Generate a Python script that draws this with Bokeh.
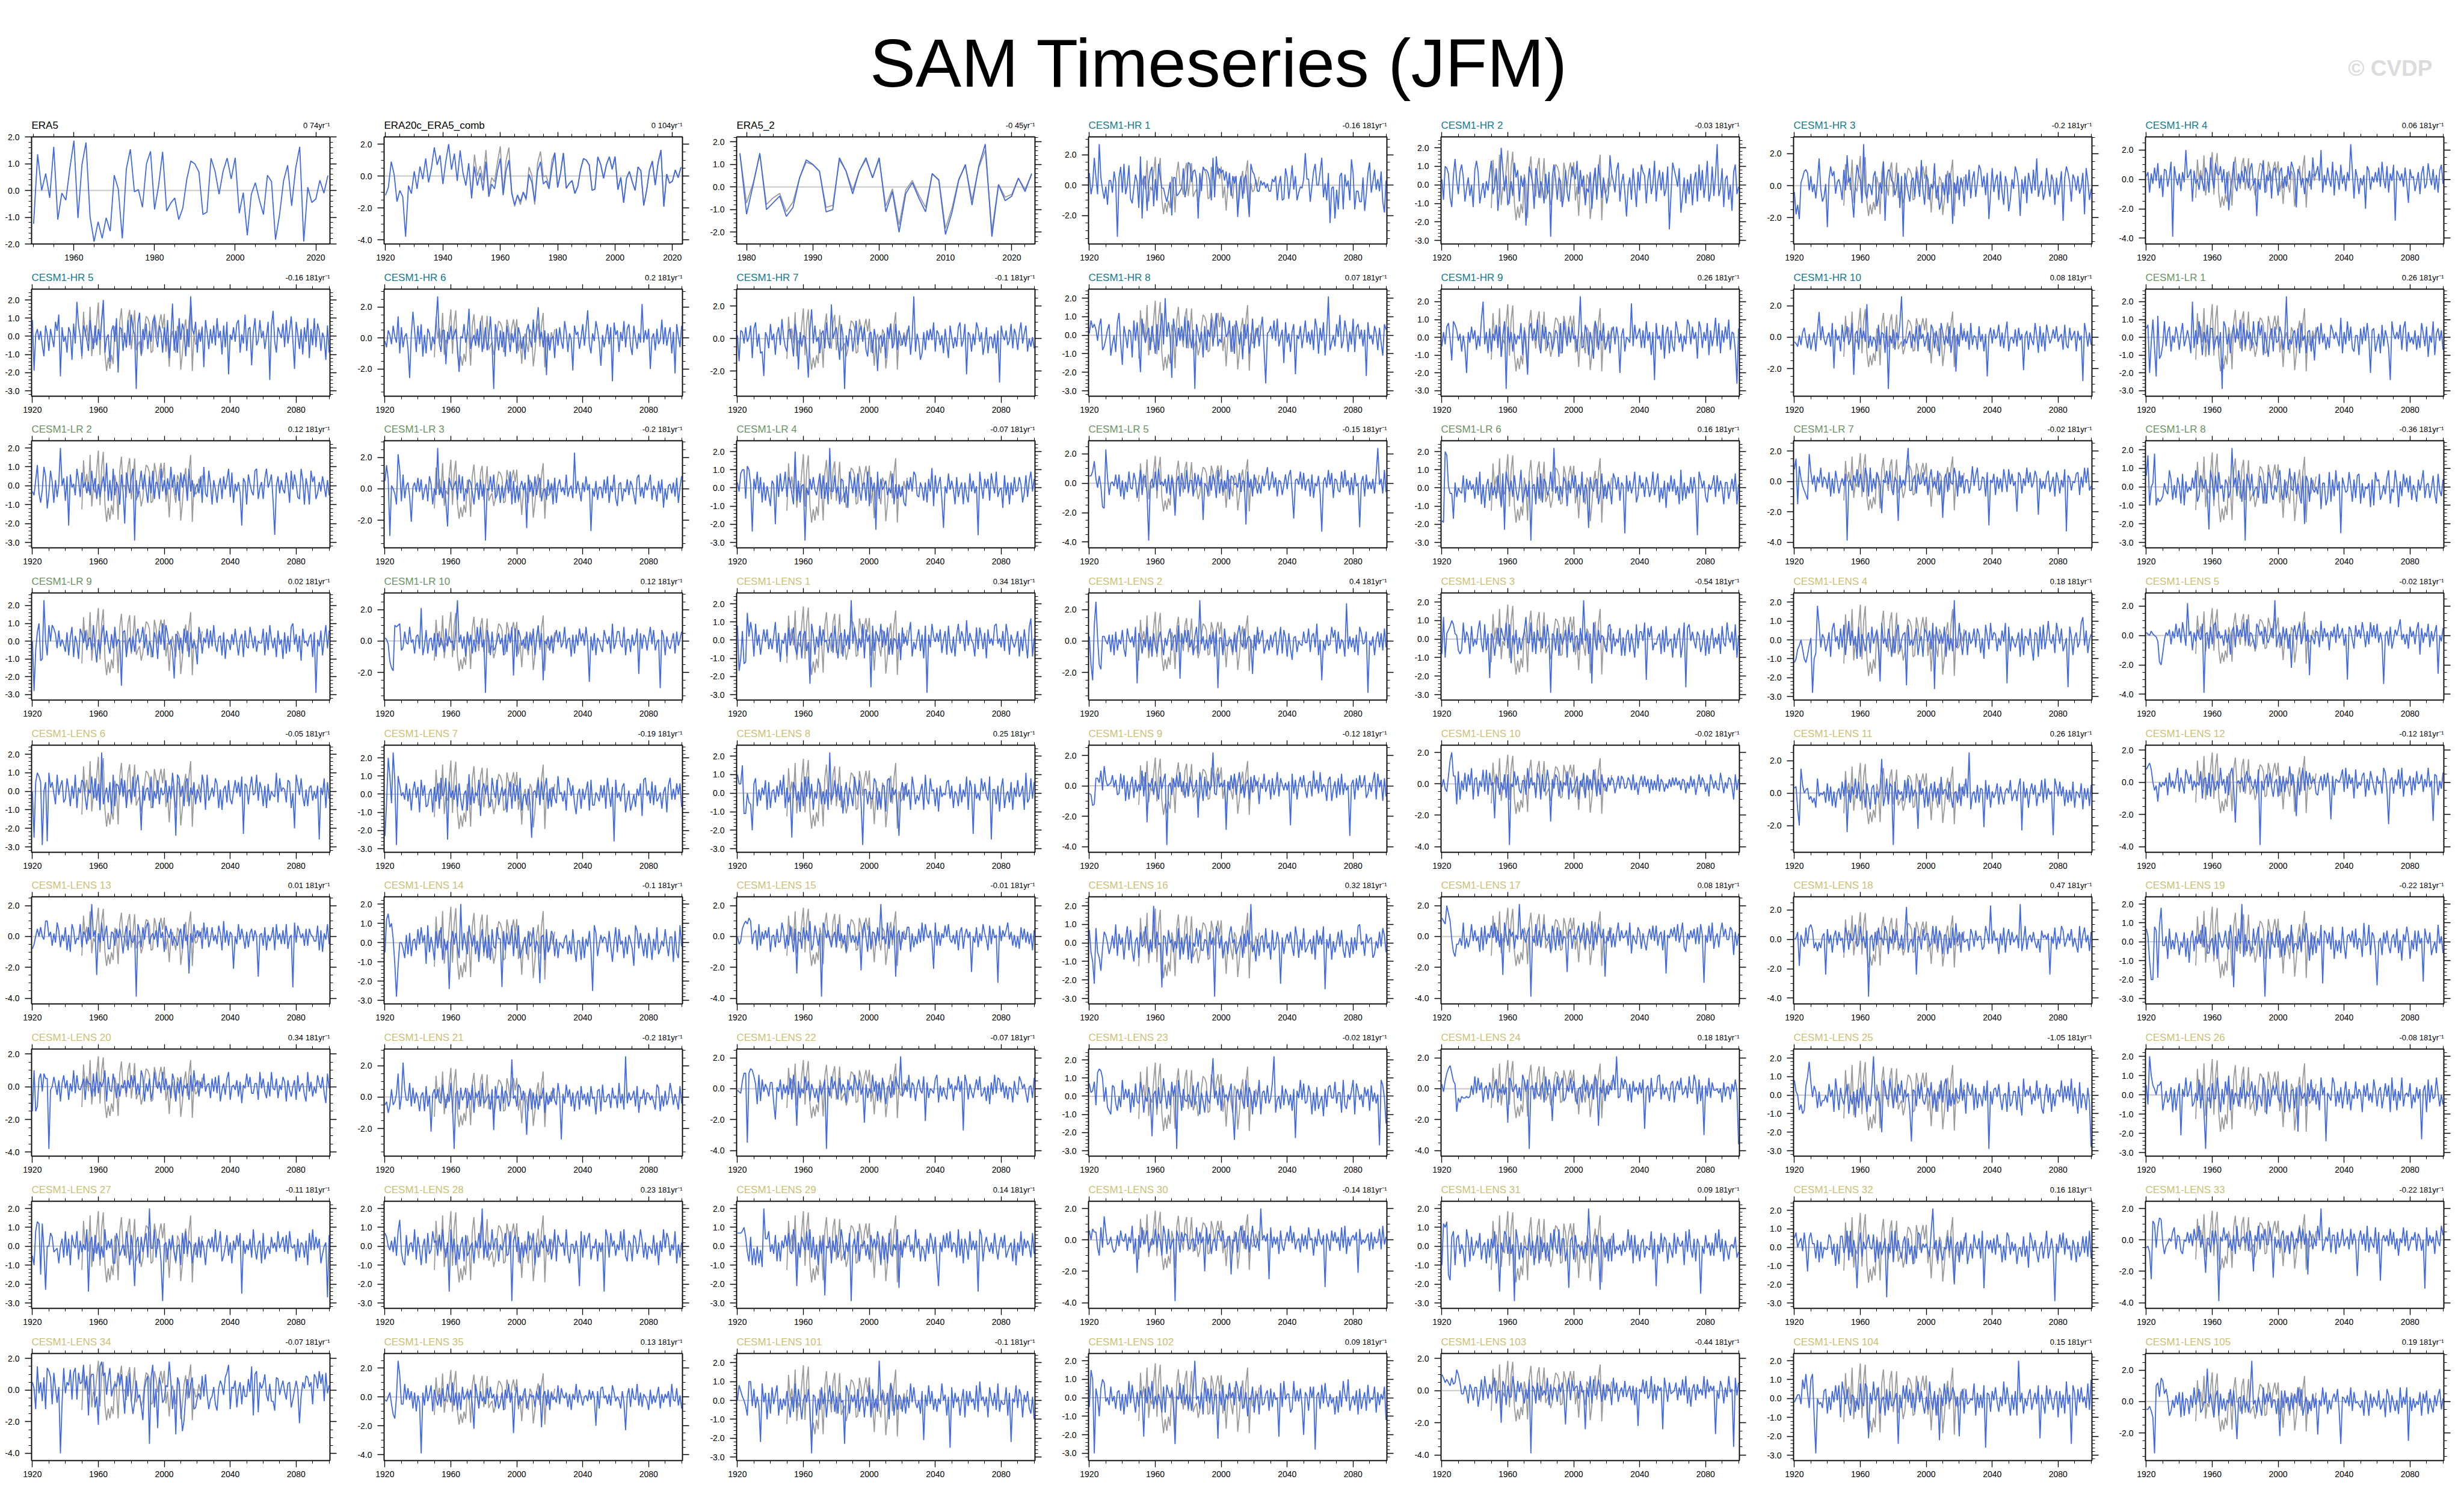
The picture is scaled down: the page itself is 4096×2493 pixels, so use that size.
import numpy as np
from bokeh.plotting import figure
from bokeh.layouts import column, row
from bokeh.models import Range1d, LinearAxis, FixedTicker, PrintfTickFormatter, Span, Label
from bokeh.embed import file_html
from bokeh.resources import INLINE

# ---------------- observations ----------------
ERA5_YEARS = list(range(1950, 2024))
ERA5 = [-1.25, 1.35, 0.0, 0.63, -0.28, 1.63, -1.09, -0.10, -0.36, 0.83,
        1.86, -1.03, 0.96, 1.79, -0.98, -1.91, -1.17, -1.79, -1.02, -1.52,
        0.57, 0.05, -1.79, 0.80, 1.54, -0.05, 0.03, -0.63, 1.00, 1.46,
        -0.71, 0.18, 1.44, -0.77, -0.48, -0.28, -1.09, -0.66, 0.42, 1.10,
        0.99, 0.69, -0.90, -0.81, 1.20, 0.72, -0.14, 0.72, 1.21, 0.43,
        1.22, -0.85, -0.08, -1.67, -0.14, 0.29, -0.36, -0.90, 0.57, 0.33,
        -1.84, -0.91, 0.36, 0.94, -0.57, 0.83, 1.63, -1.91, 0.12, -0.45,
        -0.32, 0.38, -0.10, 0.56]

ERA20C_YEARS = list(range(1920, 2024))
ERA20C = [-1.2, -0.7, 0.9, 0.1, -1.6, -0.9, -1.3, -3.8, -0.6, -1.1,
          0.3, -0.8, 0.6, -0.2, 1.1, -0.4, 0.5, 1.8, 0.7, 1.3,
          -0.5, 0.9, 2.0, 0.4, 1.4, -0.3, 1.6, 0.2, -0.6, 0.8,
          -1.4, 0.6, -0.6, 0.2, -0.9, 0.9, -1.3, -0.5, -0.8, 0.3,
          1.1, -1.2, 0.3, 1.0, -1.1, -1.8, -1.2, -1.6, -1.0, -1.4,
          0.1, -0.4, -1.6, 0.3, 0.9, -0.5, -0.3, -0.8, 0.5,
          1.46, -0.71, 0.18, 1.44, -0.77, -0.48, -0.28, -1.09, -0.66, 0.42,
          1.10, 0.99, 0.69, -0.90, -0.81, 1.20, 0.72, -0.14, 0.72, 1.21,
          0.43, 1.22, -0.85, -0.08, -1.67, -0.14, 0.29, -0.36, -0.90, 0.57,
          0.33, -1.84, -0.91, 0.36, 0.94, -0.57, 0.83, 1.63, -1.91, 0.12,
          -0.45, -0.32, 0.38, -0.10, 0.56]

ERA5_2_YEARS = list(range(1979, 2024))
ERA5_2 = [1.5, -1.2, 0.1, 1.5, -1.0, -0.7, -0.4, -1.3, -0.9, 0.4,
          1.2, 1.0, 0.7, -1.1, -1.0, 1.3, 0.7, -0.3, 0.7, 1.3,
          0.4, 1.3, -1.1, -0.2, -2.0, -0.3, 0.2, -0.5, -1.1, 0.6,
          0.3, -2.1, -1.1, 0.3, 1.0, -0.8, 0.9, 1.9, -2.2, 0.1,
          -0.6, -0.4, 0.4, -0.2, 0.6]

# ---------------- model runs 1920-2100 (values in tenths) ----------------
MODEL_YEARS = list(range(1920, 2101))

HR1 = [8,-6,0,18,5,-6,27,5,-3,-9, -1,-13,3,3,-5,9,2,-34,5,12,
       -5,14,-6,0,13,-9,-12,-2,7,2, -15,19,-22,4,6,-17,1,9,12,-14,
       4,-10,14,5,-2,-2,-7,-11,-5,2, -20,5,5,-7,-6,-4,-2,11,-8,-2,
       15,14,2,9,10,4,-22,8,-4,12, 10,10,8,3,-10,18,-8,19,7,11,
       8,10,3,9,-2,8,-7,6,1,6, -21,0,6,-9,4,7,-7,-21,14,9,
       7,2,-4,-4,3,0,2,-2,1,-4, -4,4,2,6,-10,0,6,-10,-9,11,
       5,-9,1,13,-3,6,-10,-5,-1,-2, 4,21,4,4,-11,-1,9,14,0,0,
       9,18,-8,1,-10,8,-25,-2,-1,-22, -3,-16,6,8,-16,7,-1,3,-10,17,
       8,-16,-4,-4,-11,-11,5,-17,-6,8, 15,-5,2,10,-3,4,-4,9,-11,-18,
       3]
HR2 = [3,-8,10,9,6,-7,-12,5,14,2, -5,7,11,4,-9,-2,4,-6,0,-12,
       8,13,7,-10,-4,1,-7,2,-3,6, 13,-5,-1,9,-14,-3,20,8,-3,5,
       -11,-7,2,-6,12,4,8,-9,5,-1, 4,-22,-6,10,6,1,-13,9,3,-7,
       2,-2,-10,6,-5,7,-28,4,11,3, -8,4,2,-12,-6,8,-4,-9,1,10,
       6,3,13,-5,8,-1,5,-11,-2,-4, 7,-13,0,9,-8,11,3,-7,4,-2,
       -10,-5,16,6,2,-4,8,12,-9,1, 6,-4,-17,-1,4,-8,9,-1,-12,7,
       -3,11,7,5,-10,3,9,-5,0,13, -9,2,8,-3,7,-6,-2,10,-24,-5,
       12,8,4,-1,9,-15,-6,4,-10,3, -5,6,-11,2,7,-9,11,-3,8,-7,
       1,13,-9,-4,10,-6,5,22,-6,-2, 9,-12,3,5,-8,0,-14,7,11,-5,
       -1]
HR3 = [-4,-18,-12,-21,2,5,9,10,8,-3, 6,-4,1,-8,3,17,-2,-10,-7,1,
       -26,4,12,6,9,-5,2,4,-1,-9, 10,-3,19,2,5,-8,-20,1,13,7,
       3,-11,26,-4,-8,1,0,-6,6,9, -13,-7,2,-5,15,-22,4,10,9,3,
       2,-6,-1,8,-14,6,-32,8,2,-4, -10,3,5,-7,9,1,-7,16,-3,-12,
       7,4,-9,1,-2,14,-8,0,-15,-10, 2,-6,7,-11,8,3,-24,2,-5,6,
       -9,5,1,-13,7,-3,10,-8,4,9, -7,2,13,10,-1,6,-6,8,-21,-5,
       11,-4,3,7,-9,9,-4,-12,6,1, -16,-9,4,-2,12,8,0,-19,4,-5,
       6,-11,8,2,-5,10,-3,17,-7,-1, 3,-9,-4,11,1,-7,7,3,-12,5,
       -6,0,9,-22,5,12,8,2,-10,7, 4,-3,6,-5,-1,8,-18,11,3,-9,
       -2]
HR4 = [2,5,-9,4,-3,8,-1,11,-6,3, -12,7,6,-5,2,12,-39,9,1,-4,
       4,-8,5,-2,20,1,3,7,-15,6, -3,0,-7,3,-1,-8,8,4,-9,15,
       1,-6,11,4,3,9,-2,7,-10,5, -21,-8,0,12,-5,-8,4,-3,6,-2,
       9,2,-6,7,11,-4,1,-25,0,-7, 4,13,-9,3,-1,6,-13,6,8,-2,
       -11,5,8,-6,2,-5,9,0,12,8, 3,-19,7,4,-4,1,-10,1,-2,6,
       -7,15,2,4,9,-1,20,-9,3,-4, 8,0,-5,12,-11,6,2,-7,10,-3,
       3,-8,5,-1,24,6,-13,7,1,-10, 1,-4,3,-20,9,6,-7,2,-2,5,
       -2,8,-5,12,0,-6,9,-9,4,-1, 10,-28,6,3,-1,4,-5,8,-3,-16,
       7,1,2,-8,-2,5,-10,4,9,-6, -3,11,2,-4,7,-7,3,-9,6,10,
       -3]
HR5 = [9,-19,1,4,-2,3,-5,-11,6,1, -8,4,-1,-6,8,3,12,-22,5,-3,
       0,-9,5,2,-13,7,-4,19,6,0, -11,6,3,-2,-8,9,1,-7,6,-5,
       4,-2,8,20,-9,-1,1,-14,3,6, -3,10,-20,5,4,-8,2,-6,9,-5,
       12,4,1,-29,7,13,-10,4,-2,7, -7,3,-3,8,11,-1,-6,6,2,-9,
       5,-5,9,-12,0,18,-8,3,-9,10, -2,7,3,-11,4,-6,22,4,1,8,
       -9,2,-3,5,-17,9,2,-7,4,-4, 6,-5,10,-1,3,-10,6,-6,8,-21,
       1,-2,5,-3,7,9,-9,1,-4,12, -8,4,5,-16,2,10,-5,-2,9,-1,
       3,-7,0,8,-24,6,14,-3,-9,5, 2,-1,7,-6,9,-4,3,11,-2,-18,
       8,1,-7,4,-10,5,-3,10,-12,4, -5,10,-6,7,3,-8,2,-1,-13,6,
       -9]
HR6 = [-2,-6,5,2,-4,8,1,-3,14,-10, 7,-6,1,3,-7,-26,2,17,5,-9,
       8,-4,9,-12,2,-10,6,3,-8,1, -4,10,27,-3,-9,5,5,-17,4,-1,
       8,-1,2,6,-6,-22,1,0,9,-3, 3,19,-7,-2,2,-5,6,-5,11,-9,
       -1,7,-8,0,14,-4,-33,9,2,-8, 5,-6,4,-12,8,1,-9,3,-3,6,
       -10,7,2,-7,1,-14,5,9,-1,-6, 12,-3,8,20,-1,4,-6,5,-24,3,
       -8,0,1,-13,6,-5,7,-2,-7,11, 4,-9,3,-1,-21,8,2,4,-7,0,
       9,-5,6,18,-4,-10,3,-2,11,5, -3,-18,2,-6,1,9,-4,7,-28,10,
       2,5,-9,4,-2,11,-6,6,9,-5, -11,8,0,-7,3,-3,22,-3,5,-1,
       6,-20,0,3,-8,6,-4,-1,12,-4, 7,-5,2,7,-10,4,-23,9,1,-6,
       8]
HR7 = [2,-14,5,4,-3,7,-2,1,8,-12, 6,10,-5,3,-9,-8,-23,4,1,-6,
       9,-1,3,-10,3,7,-4,12,1,-5, -8,5,6,-2,-11,9,3,-19,4,-5,
       2,1,-7,-24,6,18,-3,8,-2,1, -9,3,5,-6,10,-1,-6,21,0,4,
       7,-3,-13,9,2,-31,2,-5,6,5, -8,1,11,-4,4,8,-2,7,-7,-11,
       3,4,-9,6,-1,-20,0,2,-5,3, -12,7,0,9,-6,-3,9,-7,5,1,
       -4,2,-5,2,8,-10,1,26,-8,3, -2,-13,-9,4,-7,5,-1,6,-1,10,
       -8,5,3,-4,2,-9,6,-3,-12,8, 1,-6,1,-5,7,10,-5,-1,9,-22,
       4,2,-8,3,-4,10,6,-2,4,-10, -3,7,-9,1,1,-6,3,-9,5,-27,
       8,2,-1,5,-4,-1,9,-6,6,2, -7,4,10,-3,3,8,-8,0,-5,1,
       -6]
HR8 = [1,8,4,6,3,-3,5,9,-8,-6, -2,3,6,-11,-5,0,-9,7,12,-4,
       -16,5,0,-7,3,2,-12,8,-3,7, -6,-20,9,1,-4,1,4,-8,5,-2,
       -10,6,-8,3,12,-5,20,-1,7,-1, -23,9,2,-6,4,-3,5,-3,10,-7,
       8,0,-7,3,-29,6,1,-4,2,-12, 5,-8,3,-1,9,-6,4,12,-6,-2,
       -4,10,7,-1,1,8,-9,5,-10,8, 3,-5,2,-13,6,-2,6,-10,-4,9,
       -7,1,4,-6,4,10,-8,-26,1,2, 5,-2,8,-3,9,-6,-1,3,-15,7,
       -4,1,-9,2,6,-21,0,-2,5,-7, 0,8,-4,2,-5,3,-8,9,4,-10,
       4,-3,7,-11,1,21,-8,-4,0,-6, 6,-1,11,-7,-3,8,2,-9,2,-5,
       9,-9,4,6,-2,3,-6,3,-22,7, -2,0,-5,5,1,-8,4,-4,-11,6,
       3]
HR9 = [-5,3,-4,6,8,-1,-13,9,7,4, -2,2,-8,1,-6,-20,3,-3,6,-1,
       4,-7,1,-5,10,20,-4,3,-9,5, -8,2,-2,7,-6,6,-11,1,9,-29,
       6,-3,3,-8,2,-4,1,-1,8,-10, 4,-6,-21,5,8,-2,5,-2,10,-4,
       -9,7,-1,6,-6,3,2,-7,-3,4, 2,-11,8,-9,9,1,-5,6,-3,6,
       -1,1,-8,4,23,-6,-5,7,2,-10, 3,-3,-12,9,5,-7,4,-2,8,-7,
       -4,2,-9,3,6,-4,6,0,-20,1, 5,-8,0,-1,-3,19,-5,7,-1,2,
       5,-6,4,-6,9,-2,3,-10,3,-24, 8,-1,1,-7,7,-12,2,6,-9,4,
       -5,-8,9,4,-3,2,-8,1,-4,10, 7,-4,6,-1,3,-12,9,5,-6,3,
       -2,8,-10,4,-5,1,11,-5,8,-9, 4,-3,6,-1,10,-7,3,2,-7,-26,
       5]
HR10 = [-3,-4,-6,1,-5,3,6,-1,-7,2, -8,-2,3,-9,4,16,-2,7,-1,-5,
        0,3,-6,9,-20,5,-2,1,-9,8, -3,2,7,-5,-1,9,-24,2,4,-8,
        6,-1,4,-3,21,-7,1,-6,0,-2, -9,8,-5,3,2,-10,7,-33,1,-4,
        5,-8,3,-2,9,26,-6,-1,-4,0, 4,-7,2,-3,7,-9,8,-1,2,-6,
        -1,3,-10,8,5,-7,4,-2,-12,9, 3,-5,1,-4,7,-10,0,6,-22,2,
        -6,9,-2,4,-3,4,-8,9,-5,1, 0,-8,7,-3,2,-9,2,-25,1,6,
        -4,5,-1,1,8,-6,3,-7,3,10, -9,-1,0,-4,5,-6,6,-2,2,-21,
        1,4,-8,3,-2,-5,9,1,-10,7, -6,3,-9,8,2,-4,-1,5,-1,7,
        -3,0,2,-8,8,-5,-7,6,-2,1, 4,-9,4,-2,1,-28,9,3,-6,3,
        -5]
LR1 = [5,7,-20,-3,10,-6,-22,12,-12,-10, -4,9,-5,3,6,-8,1,-3,6,1,
       -7,2,8,-5,-1,4,-1,-9,20,-6, 4,-4,9,1,-10,3,-3,7,-10,5,
       5,-7,-2,1,-6,3,-29,9,6,-4, 2,-9,2,7,-3,5,-1,10,-8,8,
       -5,4,-1,3,-6,9,-2,-5,9,1, 7,-10,3,-4,-11,1,5,-8,6,-3,
       -2,6,2,-7,0,23,-7,-1,-4,2, 4,-6,5,-9,8,-2,1,-9,3,4,
       -8,1,-13,2,6,-4,8,-3,2,-7, 0,-6,7,4,-1,3,-1,-5,11,-9,
       3,-4,9,-2,6,-6,-8,1,1,-10, 5,-4,6,-2,8,-1,-20,4,5,-8,
       -3,2,-9,7,-5,4,0,-6,-24,9, 2,-1,3,-1,7,-7,5,9,-8,3,
       -3,0,-4,4,-7,1,-6,8,2,-5, 6,-11,1,-3,9,-10,2,5,-2,4,
       -7]
LR2 = [-3,-5,3,11,-4,-9,-2,10,5,-12, -4,8,2,-9,3,-6,1,20,0,4,
       -8,5,-21,6,-1,1,-5,9,3,-6, 7,-1,2,-4,2,-5,8,-2,4,-7,
       1,-6,0,5,-3,12,-8,3,-8,9, -5,2,-1,-10,6,-3,-20,7,1,-4,
       4,9,-29,3,-6,1,8,-2,6,-2, -9,5,-4,8,-7,2,1,-7,9,-3,
       3,-5,4,-2,10,-1,6,-5,2,-8, 7,-1,6,2,-8,9,-3,3,-6,-1,
       1,-4,5,-9,10,-4,-6,8,1,-10, 3,-2,-9,0,4,-7,5,-2,3,9,
       -6,7,-9,1,-3,2,-4,-21,4,2, -10,6,1,-3,-5,8,9,-7,-1,2,
       -7,4,9,-1,2,6,-8,-26,0,5, -4,3,-2,-4,7,1,-9,8,-2,6,
       1,-6,-7,9,3,-10,4,-1,-10,8, 2,5,-7,-4,2,-3,5,0,-6,3,
       -5]
LR3 = [5,15,6,-30,2,0,-3,-10,22,12, -8,9,-6,2,4,-5,-21,1,4,-2,
       7,-2,6,-7,-1,3,-8,8,3,-10, 0,-4,26,-4,1,-6,5,-9,-24,7,
       2,-1,2,5,-7,9,-3,8,-8,0, -3,6,4,-2,-10,1,4,-7,6,-5,
       3,-33,0,-1,8,-2,9,-6,-4,3, -9,2,-6,1,6,-3,11,-10,5,-9,
       2,-7,1,5,-1,4,-25,9,-2,4, -5,8,-4,3,7,-8,-1,0,-7,6,
       -3,3,-10,7,-9,2,6,-2,1,-4, 9,-5,0,2,-6,23,-3,5,-1,-8,
       4,-2,8,-1,3,-27,0,-5,5,-7, 1,1,-6,6,-3,8,-9,2,-2,9,
       -6,-11,3,4,-8,0,-2,6,-4,5, 2,-4,-10,7,9,-5,1,-6,4,-1,
       3,9,-7,2,-1,-8,5,-3,6,-12, 0,-7,2,3,-3,4,-5,7,-9,1,
       8]
LR4 = [3,-2,8,10,10,-6,12,10,2,-24, 5,-1,9,-3,6,-8,3,-7,1,-4,
       -10,4,2,-20,7,-5,8,-2,1,9, -5,6,3,-3,-9,20,-7,4,-8,1,
       2,-29,0,-4,5,-1,6,-1,-4,2, 8,-6,7,-6,3,-9,22,-2,-2,7,
       -3,1,-9,5,4,-8,1,-11,9,4, -3,6,-5,8,-1,-7,2,3,-7,9,
       -10,6,-2,3,-23,9,-6,5,-1,1, 4,-4,0,-3,8,-9,2,-6,2,-5,
       1,-8,-10,4,-1,6,-2,9,7,-4, -5,3,0,-7,3,-8,5,-2,11,-10,
       7,-3,2,6,-6,-22,1,-3,8,-1, 4,-1,-9,6,-5,0,3,-9,3,-4,
       -8,8,-2,4,-3,1,-26,9,1,-6, 5,0,5,-7,8,2,-3,9,-5,-1,
       0,-11,7,-4,3,-9,3,-4,6,-2, -1,6,2,-8,-3,7,-5,4,9,-2,
       5]
LR5 = [5,5,8,15,3,-3,5,-2,-16,-17, 23,4,-8,0,1,-2,6,-4,6,-9,
       2,-11,1,-6,8,-3,-4,7,2,-10, -1,9,-8,4,5,-7,-39,0,3,-3,
       8,-5,10,-1,1,-2,3,-7,6,-8, 4,-4,-22,1,5,-9,7,-1,-4,9,
       -6,2,2,-9,7,-3,6,-2,4,-25, 0,-2,-8,5,-5,6,1,-10,9,-7,
       3,-6,2,-4,9,-11,5,4,-1,0, -3,7,-6,2,1,-28,8,-3,3,-9,
       6,-1,-7,0,-7,5,-2,4,11,-5, 0,8,-3,4,-9,2,1,-8,-1,6,
       -4,5,9,-6,-24,2,3,-1,8,-4, 7,-5,1,3,-9,6,-10,0,-2,5,
       -7,-33,1,4,-3,9,-1,7,-10,3, 2,-5,-6,8,-3,9,-2,2,-8,4,
       -8,7,-2,0,-30,1,5,-9,6,-4, 1,-4,3,-7,6,24,-1,3,-7,9,
       -6]
LR6 = [-18,-19,20,18,1,-3,-3,-17,3,-5, 0,-2,-3,7,-8,5,-1,4,-1,2,
       -6,6,-4,9,-9,2,-11,1,5,-7, 3,-4,1,-6,7,-2,-10,8,-23,9,
       3,-2,4,-5,7,-1,-7,0,10,-8, -3,2,-5,4,-29,1,2,-9,6,-6,
       8,-8,5,3,-4,-1,9,-2,22,-3, 1,-7,1,-5,6,3,-10,4,-3,7,
       0,7,-5,2,-4,9,-8,2,-1,-22, 6,0,-2,4,5,-9,-3,8,-6,2,
       -6,3,-1,-9,8,5,-1,6,-7,3, 1,-25,7,-2,4,-3,1,9,-8,-4,
       7,0,3,-5,6,2,-5,-1,9,-4, 2,8,-8,0,-6,4,-11,3,-2,7,
       -2,5,-4,1,-9,10,-7,3,-6,1, -3,6,-3,6,-1,-26,9,5,0,4,
       -5,-8,2,-1,2,7,-5,7,-2,4, 0,-9,3,3,-6,-1,5,-2,8,-9,
       2]
LR7 = [8,15,-15,10,2,-3,-6,-9,-12,18, 6,-2,4,-7,3,-1,9,-4,3,1,
       -5,6,-10,2,-8,7,0,-8,-2,2, -3,5,-39,0,1,-6,4,-1,8,-4,
       5,-2,-7,9,4,-10,9,-7,2,-5, 6,3,-3,-21,1,-1,7,-2,7,-5,
       -9,3,0,-26,4,-4,1,-3,9,22, -6,-6,1,4,-8,5,-2,-1,6,-3,
       3,-9,2,8,-4,0,-5,7,-9,1, -24,2,5,-7,6,-1,-2,9,3,-10,
       7,-4,4,-8,1,1,-8,-2,10,-3, 4,9,-6,-5,3,2,-10,6,-29,1,
       -1,5,-9,3,-5,2,-7,8,1,-7, 8,-2,5,-3,0,-20,6,4,-8,2,
       -3,9,-1,6,-4,-1,7,3,-22,2, -5,0,-5,4,7,-7,-2,3,-10,6,
       1,-8,1,-4,8,-33,4,2,-6,0, -1,5,6,-9,3,-4,9,-1,9,-6,
       -3]
LR8 = [6,17,-10,0,2,18,-10,-6,-8,-7, -5,2,-2,-4,9,4,-7,1,-6,5,
       1,-9,7,-10,3,-3,0,-2,5,-1, 9,-8,-5,6,2,-1,4,-4,-23,9,
       3,-7,6,-3,8,-1,1,-8,4,2, -6,-2,21,0,5,-5,9,1,-8,4,
       -29,7,3,-2,7,-5,-1,0,-6,6, 2,-9,2,-9,8,5,-4,-7,1,-3,
       5,9,-3,-7,4,-6,1,10,-1,-2, 8,-4,2,-5,-9,6,-20,6,3,-8,
       5,-1,-3,0,-4,7,-12,2,2,-10, -6,8,-8,4,-5,9,-2,3,-25,5,
       1,-3,-2,8,1,-8,4,-6,6,7, -9,2,-6,0,-1,2,-11,4,-10,8,
       3,4,-7,-4,1,-4,5,9,-9,-1, -3,9,2,-11,3,-5,7,0,5,-3,
       6,-7,1,-2,-8,4,-2,3,9,-6, 1,2,-6,-1,6,-4,-9,7,-2,-5,
       4]
LR9 = [0,-28,-5,5,10,-11,-10,23,0,-8, 9,0,9,7,4,-4,6,-3,1,-2,
       -6,5,-8,2,8,-9,3,-1,-10,7, 4,-1,6,-5,1,2,-5,9,-3,-12,
       1,-7,3,9,-2,6,-2,-7,4,-4, 8,-3,1,0,-25,5,6,-9,-1,2,
       -6,3,-6,3,7,-1,2,8,-4,4, -8,0,-3,-9,5,1,-10,6,-2,10,
       -5,9,4,-2,1,-6,-21,4,3,-5, 2,-7,7,-1,6,-9,5,-4,0,-3,
       -13,8,3,-7,2,-1,7,-4,6,-3, 9,-2,-6,2,3,-8,5,-10,1,0,
       -5,4,-2,7,-1,-8,1,4,-9,6, -3,-4,8,2,-4,3,-6,0,-1,-1,
       7,-8,5,-5,9,1,-4,2,-9,6, -2,1,-10,5,-7,3,-6,8,10,-2,
       4,-6,3,-11,7,-1,0,-3,2,4, -9,5,-29,1,-3,6,-8,1,9,-4,
       6]
LR10 = [2,1,-2,-13,-17,-19,10,9,10,11, -6,-4,6,-1,-2,9,-1,1,-8,3,
        4,-5,21,-9,-3,7,-8,1,2,-6, 5,-10,5,-4,2,-2,-7,8,-3,3,
        -1,0,-6,8,26,-1,4,-5,3,-10, 6,-3,4,-8,1,-7,9,-2,9,-4,
        1,-33,7,2,-9,6,-6,-4,0,5, -2,2,-9,4,-7,5,-1,9,-22,8,
        -10,7,3,-3,1,-5,6,-6,4,-3, 8,-9,1,10,-4,5,-25,0,-2,3,
        -6,3,-8,2,7,-1,6,-4,-1,9, -5,1,2,-10,4,-8,4,-3,8,0,
        5,-3,9,-1,-26,3,-6,5,-9,2, 0,-4,-7,7,2,-2,3,-8,11,-5,
        -1,6,6,-2,-4,9,-9,1,1,-7, 4,-3,0,8,-21,5,-5,4,2,-6,
        2,9,-2,7,-6,-1,1,-30,7,3, -9,3,-3,-5,0,5,-8,6,-3,1,
        6]
LENS1 = [8,-17,-10,5,-13,-12,15,2,10,4, -9,9,-3,3,-8,-1,6,-1,6,-5,
         1,-5,2,10,-7,4,-12,0,-2,4, -9,7,-3,1,7,-4,-8,2,5,-10,
         3,5,-6,-1,-24,9,3,-8,2,-4, 8,-3,6,-1,0,-7,1,4,-7,8,
         -2,-10,2,4,-9,6,-3,3,-5,22, -2,7,1,-6,1,-4,9,-10,6,-1,
         3,-26,8,-6,5,2,-1,9,-4,5, -3,7,-8,1,-8,1,0,-5,4,-11,
         7,-2,2,-3,4,10,-9,-1,-5,1, 6,-6,3,-10,8,-29,3,-4,9,2,
         -1,4,-1,6,-7,0,5,-8,8,-3, -7,2,-9,3,9,-2,5,1,-6,11,
         -3,4,0,-2,-9,7,-5,7,2,-5, 4,-10,6,-2,1,-3,8,9,-2,1,
         -4,5,-6,9,3,-8,3,-1,-4,0, 5,-9,2,-6,6,-2,-10,7,12,-9,
         1]
LENS2 = [3,-15,-25,10,25,2,-15,-18,3,3, 0,-2,4,-7,4,-9,6,-6,1,-2,
         7,-5,-10,8,2,-1,3,-4,9,-27, 5,2,-8,1,-4,9,-6,3,-10,5,
         -3,-8,1,6,-1,-9,2,-3,4,8, -6,2,4,-7,10,-24,5,-2,7,-1,
         7,-4,1,-9,3,9,-8,26,-2,3, -6,1,-5,4,-2,6,-10,7,-30,2,
         2,-9,8,-3,-3,0,1,-7,4,-7, 5,10,-1,-4,8,-5,2,3,-1,-21,
         4,-6,9,-2,2,7,-8,-3,1,-6, 4,-4,3,6,-9,-1,9,-8,7,2,
         -10,5,-5,-12,2,3,-7,0,-2,-3, 6,-1,-1,8,-7,3,5,-4,11,-9,
         1,-25,0,-6,4,-3,-2,9,2,7, -8,6,-5,1,-1,-10,24,-5,3,-4,
         2,-7,4,-9,9,5,-2,-1,6,-33, 0,-3,3,-9,1,6,-4,5,-6,8,
         -4]
LENS3 = [-8,12,-10,3,5,7,10,8,3,2, -6,-8,-6,9,-2,4,1,-8,7,-4,
         0,-3,5,10,-2,-7,8,-6,3,-21, 3,1,-9,-1,6,-4,6,2,-1,9,
         -5,8,-13,2,-3,5,-8,1,-6,0, 4,12,-2,-2,9,-7,4,-8,5,-1,
         1,-5,7,-4,8,0,-29,3,2,-6, 6,-9,3,-3,0,5,-10,8,-2,4,
         -7,1,2,-6,6,-3,21,-1,4,-8, 3,-24,9,-1,-6,5,-2,2,1,-4,
         -7,7,8,-8,3,-4,0,-2,6,-9, 1,-9,2,5,-7,3,-3,-10,8,-5,
         4,4,-1,9,-22,6,1,7,-6,-2, -3,1,3,-8,5,-7,7,-4,-1,0,
         -10,3,-5,2,6,-10,-3,9,-26,6, 8,-1,4,-1,-5,4,2,-7,-3,5,
         -9,2,-8,0,6,-5,1,-3,3,-8, 7,-2,-4,9,1,-2,4,-6,8,-10,
         2]
LENS4 = [-12,-10,-5,-3,0,-5,-10,-12,-8,-3, 1,-28,-10,-7,18,8,-4,3,1,-6,
         -2,4,-9,6,9,-1,2,-5,6,-4, 8,-8,1,10,-3,5,-3,2,-10,7,
         -9,3,-1,-6,0,4,-7,7,-2,2, 5,-5,-22,9,-2,1,-4,6,1,-9,
         2,-7,5,8,-6,0,3,4,-24,8, -3,0,-3,2,6,-8,-1,2,-9,6,
         4,-1,5,-5,9,-26,7,1,-2,3, -2,7,-9,3,-5,1,-6,21,-4,-3,
         9,-1,-8,2,5,-8,4,-2,0,6, -4,6,3,-7,1,-10,8,2,-5,9,
         0,4,3,-6,1,-3,5,-1,9,-23, 7,-6,2,-1,-4,0,4,-9,6,-8,
         2,1,-3,6,-4,-11,4,3,-9,7, -5,8,-5,1,10,0,-2,3,-7,9,
         4,-2,6,-6,-3,1,-25,7,2,-8, 1,4,-4,-1,9,12,-3,5,-7,0,
         3]
LENS5 = [2,1,0,3,1,0,-1,-4,-18,-20, -12,-3,2,0,4,-6,3,-2,8,-1,
         5,-5,9,1,-7,22,0,3,-10,2, -4,4,-1,-3,8,-39,1,2,-9,6,
         -6,7,9,-2,3,-2,0,-7,4,-5, 1,-13,3,6,-8,7,-1,4,-1,9,
         -4,11,-7,2,1,-4,-9,8,5,0, 3,-6,6,-2,-5,0,5,-2,24,-8,
         -1,2,-7,6,-3,5,-9,1,-22,1, 7,-3,4,8,-6,-1,9,-4,4,-27,
         0,-2,-6,3,2,-8,10,-4,5,-1, 2,-10,3,-1,6,-5,8,-2,1,5,
         -7,1,-30,6,4,-3,-9,7,-1,4, -2,9,2,-8,3,-6,9,-1,7,-2,
         8,-5,2,-4,-33,0,3,-7,6,-9, -3,4,0,5,11,-3,1,-6,1,-9,
         6,-1,3,-6,4,9,-13,5,-5,2, -1,8,-8,3,-4,2,7,-26,0,-4,
         5]
LENS6 = [0,-25,5,10,8,5,-29,0,5,-27, 10,2,5,-1,-7,9,-2,3,6,-6,
         -4,7,1,-8,3,-4,9,-9,2,-1, 6,5,-3,-10,1,-1,8,-4,7,-5,
         4,-10,21,-7,-2,2,-6,5,-12,9, -8,4,3,-2,7,-3,6,-9,0,1,
         -6,8,-3,4,9,-1,-21,3,-5,1, 2,-5,8,-9,0,-4,6,-7,2,-2,
         -1,6,-6,3,-4,10,1,-24,9,7, -3,3,-8,5,7,-8,2,-2,5,-7,
         1,-1,-6,9,4,-10,9,-5,-2,2, -3,7,4,-9,1,-10,1,3,-6,6,
         -4,-7,0,6,-1,5,-3,8,-23,4, 3,-7,2,8,-2,-1,9,-5,5,1,
         -8,3,-9,4,-5,0,-2,-3,10,-6, 7,0,2,1,-6,6,5,-9,-1,-20,
         9,4,-2,7,-3,-8,1,-8,2,3, -5,0,-4,3,-26,2,-2,7,-9,5,
         -4]
LENS7 = [-23,-5,20,10,-5,23,8,-28,10,5, -1,1,-3,6,-4,3,-9,2,7,-2,
         4,-10,8,-1,5,-7,-6,1,3,-10, 4,-4,6,-8,9,-1,1,9,-25,7,
         -2,2,-3,5,-7,6,-3,-9,0,2, -9,11,-6,4,-5,1,-1,8,-12,3,
         6,0,5,-4,-7,9,2,-2,8,-6, -1,4,-1,3,-10,2,7,-8,6,-4,
         5,-3,9,-9,-1,0,-6,3,-5,-24, 1,2,-2,8,-6,7,-3,4,9,-8,
         3,-7,4,-2,-5,10,0,1,-4,2, -9,9,6,-1,5,-5,-11,0,3,-8,
         3,-3,2,7,-9,8,-6,-6,1,-1, -4,5,-2,5,-8,9,1,-7,4,-26,
         8,-2,1,-4,4,6,-10,-3,2,-9, -5,0,-7,3,-1,6,-12,8,9,-1,
         2,-5,7,-6,5,-4,-2,1,-8,1, 4,-10,5,9,-3,3,-3,6,0,6,
         -7]
LENS8 = [10,5,5,15,-11,-11,0,-5,-6,-20, 5,8,-7,2,-4,3,-1,7,-9,6,
         -8,1,2,-5,4,-2,7,-1,10,-8, 3,-5,0,-24,6,3,-4,1,-10,6,
         -7,9,-2,9,-3,5,-9,1,-3,8, 4,-6,1,-6,2,-9,22,-4,-1,7,
         -2,5,-4,4,-11,0,6,-7,3,-1, -7,9,3,-1,7,-5,-28,2,2,-6,
         1,-3,-3,8,6,-9,1,-8,4,4, -10,7,8,-5,3,-1,2,-8,-23,0,
         6,-4,5,-2,2,-9,9,3,-6,-1, -4,1,5,-9,10,-3,-6,8,1,2,
         -7,3,-10,4,-2,0,-1,6,7,-3, 4,-8,1,-1,-7,5,-5,2,-2,9,
         -9,7,3,-22,5,-3,0,-4,8,1, 6,-1,-4,9,-25,2,2,-6,4,-10,
         3,8,-8,-1,1,-5,6,-9,3,-2, 7,-2,0,4,-9,11,-5,-3,8,-3,
         6]
LENS9 = [-5,-6,-13,-12,5,5,2,10,-3,13, 4,0,1,2,7,-1,4,-6,-5,8,
         -2,7,-10,3,-9,1,6,-8,4,-4, 1,-3,10,-7,9,-24,2,-1,5,-6,
         3,-3,-9,6,-2,4,8,-39,0,2, -6,5,-1,7,-1,9,-4,3,-8,2,
         -7,6,1,-4,-2,4,-21,9,1,-10, 6,-7,3,-3,0,22,-5,-6,8,-1,
         2,-1,4,-29,3,-3,7,-2,8,-6, 2,9,-5,1,-8,1,4,-9,6,-4,
         7,0,3,-12,2,-2,8,-4,0,4, -9,5,-6,-1,9,-7,5,1,-3,2,
         -3,3,-26,8,-5,4,-9,1,6,-1, 7,-2,-8,2,3,-7,10,-2,4,-5,
         9,-4,1,-1,-10,4,6,-10,-2,3, -8,5,-6,8,-6,2,-3,0,-33,1,
         4,-9,5,-3,7,-1,1,7,-8,-5, 2,-4,3,9,-9,8,-1,4,-10,5,
         -7]
LENS10 = [-2,3,-3,-5,5,15,20,5,5,-13, 8,-10,2,-4,7,-5,6,-1,10,-10,
          3,4,-8,2,-2,9,-5,9,-7,7, -1,1,-22,5,3,-7,1,-4,6,-9,
          6,-39,0,-2,8,-1,5,-4,-6,2, 2,-7,10,-3,4,-1,1,-9,7,3,
          -10,6,-5,-2,9,1,-24,3,-3,6, 4,-8,2,-5,1,-1,8,-10,4,-6,
          -3,0,5,-10,2,-2,7,-9,5,-4, 3,-4,9,1,-8,3,-7,6,-2,0,
          -5,4,-1,4,2,-6,-1,5,-3,5, 3,-3,-2,4,2,-4,6,-4,1,-7,
          1,5,-2,5,-2,3,-6,3,-4,2, -4,6,-5,3,1,-5,0,-3,3,-2,
          4,-1,4,-1,2,-4,3,2,-6,1, -3,5,-2,3,-7,-1,6,-2,4,1,
          -5,0,-8,6,2,-3,2,-3,-4,7, 1,-6,1,-3,4,3,-2,-10,6,-4,
          3]
LENS11 = [3,4,-10,-20,15,5,0,2,3,-4, -2,-6,-3,-9,9,-2,0,-1,1,-6,
          6,-5,4,-8,1,-9,0,3,-4,7, -2,8,-24,2,-6,4,-1,9,-3,7,
          -5,0,2,-9,6,-1,-10,3,5,-7, 1,-3,3,21,-8,-2,9,-7,6,4,
          -32,7,-4,2,-1,1,-5,8,-3,9, -6,5,-2,2,0,-22,8,-1,3,-9,
          4,-8,1,6,-5,7,-3,3,-7,10, -1,2,2,-4,7,-2,-9,0,1,-6,
          6,-8,4,-2,9,-3,25,-10,-1,1, -6,5,-6,3,2,-21,8,-4,5,-9,
          1,-3,0,6,-7,4,-2,-7,1,3, 0,8,-5,-1,2,-5,4,9,-23,7,
          -3,3,-9,1,6,-1,5,-8,0,-2, 8,-6,9,-4,3,-1,1,-26,9,4,
          -2,7,-2,4,-8,2,-6,2,-5,7, -9,1,0,-3,6,-10,3,-4,3,-8,
          5]
LENS12 = [8,10,12,8,0,-5,-2,-12,0,-3, 0,-2,3,-8,6,-3,1,-4,2,9,
          -6,3,-1,-7,8,4,-1,5,-5,1, -3,0,-2,7,-10,2,3,-8,6,-9,
          5,-1,-5,1,-4,9,-2,2,-7,4, -8,6,9,-3,-25,0,1,-1,3,-6,
          3,7,0,4,-2,-4,2,-7,8,-39, 1,-5,1,5,-3,6,-3,-9,0,2,
          -9,4,-6,4,-6,1,-1,10,-2,5, -4,-21,3,-8,3,9,-5,7,-2,6,
          -1,1,2,-7,-8,0,4,-5,5,-3, 6,-2,-23,4,-8,2,1,0,3,8,
          -6,9,-4,5,-1,3,-10,8,-4,0, -2,4,6,-9,2,-5,7,2,-3,-8,
          4,-1,1,-7,9,6,-5,-26,1,3, -7,2,-2,8,-4,9,-9,1,-2,0,
          4,-8,3,-5,7,-1,0,5,-6,2, -3,9,-3,1,-24,5,4,-8,1,-4,
          6]
LENS13 = [-8,-5,0,5,0,6,0,-2,10,10, 0,3,-6,2,-4,9,4,-7,1,-3,
          6,-9,1,-10,8,4,-5,-1,-2,8, -7,3,1,-5,6,-2,21,0,4,-25,
          2,-4,9,-3,1,7,-8,-8,3,2, -6,5,-1,5,-1,-11,0,7,-9,4,
          -3,-4,1,-39,8,3,-7,6,-2,6, 9,-5,0,2,-2,4,-7,9,-1,3,
          -10,7,2,-1,5,-6,0,-3,-6,1, 5,-8,8,-3,1,-24,2,-4,8,-1,
          4,0,3,-8,9,-2,6,-7,-2,6, -3,1,-5,7,2,-9,10,-4,4,-6,
          3,1,-21,0,-5,8,-2,5,-1,-8, 3,-7,2,5,-3,4,0,-26,1,2,
          -6,6,-9,1,-3,0,6,-9,8,-2, 2,-5,4,-5,8,-8,-1,1,-33,9,
          -4,7,3,-1,2,-6,5,-6,5,1, 0,-3,-3,7,-9,4,-10,2,-2,8,
          -5]
LENS14 = [-5,12,15,8,10,2,-11,-28,-12,0, 0,-3,-8,4,-6,5,-7,1,2,-4,
          7,-1,8,0,4,-11,9,-5,3,-2, -9,6,-3,3,8,-9,2,-4,1,-24,
          0,6,-1,5,-2,-8,20,-4,5,-1, -6,9,3,-2,4,-6,1,-10,1,7,
          -5,3,-8,4,-9,7,-2,-3,8,2, 2,-23,6,-4,5,-1,1,9,-7,5,
          -3,9,-8,-4,0,3,-6,6,-2,0, 8,-5,1,-2,-21,3,4,-9,7,-5,
          -1,6,4,-7,2,-8,0,-1,-3,2, 4,-6,1,-6,7,-3,-10,1,1,-9,
          3,-8,2,-2,6,-4,-25,9,5,-7, -1,4,0,3,2,-5,6,-2,-10,0,
          8,-5,7,-1,1,-8,3,-6,4,1, -3,-12,9,6,-3,5,-1,-7,2,-8,
          5,0,-9,2,-4,8,-6,-3,1,-2, 7,-1,-7,3,3,-10,6,-5,-8,9,
          -2]
LENS15 = [0,-5,-3,5,8,10,8,12,10,-5, 2,4,-9,8,-6,3,-2,4,-1,6,
          -10,0,1,-7,5,-4,-3,9,3,-8, 1,-6,7,-1,-10,5,-24,3,2,-8,
          6,-2,4,-3,10,-9,-5,7,1,-6, 2,-39,9,5,-1,4,-2,-7,0,3,
          -7,8,-3,2,-5,1,-10,8,5,-4, 1,-4,0,-6,3,-22,4,9,-1,-10,
          7,-8,3,2,-6,6,-3,21,-2,0, -5,9,-8,4,-2,7,-26,1,4,-9,
          3,-1,-2,6,6,-10,2,-7,0,-5, 5,-4,9,-3,8,1,-1,4,-3,-21,
          9,-6,3,-6,2,-1,7,0,8,-2, -4,1,-5,4,-9,3,6,-8,1,5,
          -1,3,-23,0,-4,6,-7,2,-3,8, 2,-2,-9,7,-5,5,-1,1,-30,7,
          -3,4,0,4,9,-2,3,-6,1,-7, 0,-8,6,-2,5,-4,3,-5,2,-9,
          4]
LENS16 = [7,-5,-10,-22,8,-5,-8,-15,-3,6, 4,0,-6,-2,4,-3,10,-7,5,-1,
          3,-9,2,9,-4,7,-4,-10,1,3, -8,6,-2,-1,9,1,-6,2,-5,20,
          -3,6,-1,0,-24,4,3,-7,7,0, 2,-5,1,-3,8,-9,3,-6,1,5,
          -9,4,-11,0,-2,8,-2,7,-4,-4, 2,1,-7,6,-1,3,-29,9,6,-3,
          4,-8,-1,1,-6,5,9,0,2,-6, -3,0,4,-8,5,-2,7,-1,21,-5,
          -1,-10,2,-7,3,4,-5,8,-3,0, -9,7,-4,-2,6,1,-22,3,-6,1,
          5,0,6,-2,-7,9,3,-8,2,-4, 8,-5,-3,0,2,-6,4,-9,7,-1,
          4,-1,9,-25,2,-3,5,-9,1,-5, 0,6,-2,7,-4,-8,1,-2,-8,3,
          -6,3,-4,9,10,-1,1,-7,5,0, 2,3,-8,-6,1,-3,6,-2,8,4,
          -5]
LENS17 = [12,10,8,20,15,10,-2,-10,-13,-5, -5,-1,-6,9,-8,-1,-7,-2,8,-3,
          4,-3,0,-10,6,-9,7,-5,2,-1, 7,-1,9,-4,4,-7,2,-25,9,1,
          -6,5,0,3,-8,1,-2,21,-2,5, -1,-4,3,6,-39,0,-4,8,-6,4,
          -7,2,8,-1,-3,2,-10,7,1,-9, 6,-6,4,-5,0,-1,-23,3,5,-8,
          1,-2,2,7,-4,0,9,-8,4,-2, -5,10,-9,3,-4,8,1,-1,5,-26,
          0,-3,6,-7,2,-7,2,9,-3,4, -1,0,4,-6,9,-11,1,-2,-5,6,
          3,-8,2,-4,-9,0,5,-2,7,-3, 7,-6,1,3,-9,4,-24,1,-1,5,
          0,6,-3,8,-4,2,9,-7,-10,2, -2,4,-1,5,-5,6,-5,8,1,-30,
          1,-4,7,-3,9,-8,-1,2,-7,3, 9,0,5,-2,-2,6,4,-12,3,-6,
          2]
LENS18 = [0,1,5,-18,3,-2,-5,8,-3,8, 10,6,-6,-2,-8,-2,-6,2,4,-24,
          7,-3,3,-9,2,6,-4,5,-1,1, -9,8,3,-7,4,-1,1,10,-5,-3,
          9,-2,2,-6,6,-39,1,3,-8,5, -4,8,0,1,-4,9,5,-10,2,-3,
          7,-2,6,-1,-6,3,-7,4,22,-9, -2,0,-5,8,-24,2,1,-7,7,-1,
          4,4,-5,-3,9,-3,9,-6,6,0, -10,3,3,-10,1,-6,8,-4,11,-2,
          5,-9,5,-2,-1,0,-8,7,3,-5, 6,-1,2,2,-7,-5,9,4,-3,23,
          -3,6,-1,1,-10,4,-4,8,-9,2, 7,-4,5,-2,0,3,-6,24,-8,-1,
          9,-7,1,3,-2,5,-2,-6,0,-9, 6,1,3,0,4,-24,2,-3,8,-7,
          2,-3,9,6,-5,-1,4,-1,7,-5, 1,-4,-9,9,-6,3,8,-2,3,-8,
          5]
LENS19 = [7,3,-10,-20,-20,8,6,-19,9,18, -2,-2,3,-9,7,-4,1,-4,5,1,
          -7,0,-3,5,-8,2,-11,2,6,-5, 3,-1,4,-1,9,-3,8,-6,-6,0,
          2,-7,4,-9,5,1,-3,0,6,-2, -4,9,1,-24,3,-5,7,-1,20,-8,
          4,-5,1,-2,-6,7,-2,3,8,-8, 2,-4,-29,0,6,-9,5,-1,-3,7,
          -3,6,-8,2,-7,1,4,-2,9,-6, -1,-1,-4,3,-5,7,0,10,1,-10,
          5,-7,3,-6,2,-2,9,-22,6,4, -1,5,-4,8,-9,1,-5,1,-6,8,
          -2,-9,3,4,0,6,-3,7,-4,2, 1,-8,10,-2,-1,9,-7,5,3,-5,
          -23,0,2,-7,5,-1,6,-2,-6,2, 4,-3,7,-6,1,-10,4,0,8,3,
          -9,1,-4,6,-5,6,-1,2,-21,7, 2,-1,5,-7,-3,0,-6,9,-1,3,
          -6]
LENS20 = [-15,10,-15,-12,5,8,-3,8,5,5, -38,-2,0,6,1,-5,4,-9,2,7,
          -1,4,-8,2,-3,10,-4,7,-1,-2, 1,5,-8,5,2,2,-6,8,-6,9,
          -4,3,0,3,10,-9,6,-2,-3,8, 1,-7,2,-6,1,-1,4,-4,4,-1,
          7,0,7,-5,2,-5,10,6,-9,2, -3,5,-8,-3,9,1,-1,3,-4,9,
          -2,5,-2,1,-7,8,4,-9,3,-4, 6,-6,1,-1,2,-8,7,-3,10,0,
          4,-6,3,-1,8,-3,1,2,-7,5, -3,6,-4,7,-9,-2,2,-5,5,9,
          -8,0,1,-2,4,-6,3,-10,1,-1, 8,0,6,-4,-4,2,2,-8,9,-1,
          5,-3,-7,3,-6,9,-1,-2,5,-7, 1,-2,6,3,-9,4,-2,-6,0,4,
          -8,7,-3,1,2,-5,-9,9,-3,3, -6,0,-4,7,2,-1,6,-4,-10,8,
          -1]
LENS21 = [-5,-3,-10,-5,5,-5,-3,2,15,-8, 0,22,5,-2,-2,9,-6,6,-4,3,
          -1,-9,1,3,-9,7,-6,1,-22,2, 5,-1,5,-3,-4,8,0,-7,2,-3,
          9,-5,-33,2,4,-8,6,-2,1,6, -7,3,-2,8,-10,3,0,4,-6,9,
          -4,-3,0,2,-8,5,-21,7,-1,1, -9,7,-4,4,2,-6,-2,24,-1,1,
          -6,8,6,-2,4,-3,-24,0,5,-8, 3,-7,2,-8,1,-1,6,-10,3,-5,
          1,-3,6,-2,-5,9,1,-27,2,-4, 8,0,5,-6,3,-9,1,4,-8,7,
          -2,2,-5,3,-6,7,-1,0,-11,4, 5,-9,8,-3,-3,1,2,-7,6,-1,
          1,-7,9,-4,2,-8,26,-4,3,-2, 0,4,-6,7,-10,0,-1,5,-5,3,
          2,-2,1,-3,-8,8,6,-9,1,-6, 4,-5,-1,9,3,-5,2,-2,-8,7,
          -4]
LENS22 = [-1,-2,-3,5,10,10,-35,10,13,12, 8,3,-10,9,-8,6,-2,3,0,-5,
          4,4,-9,-20,1,-2,6,-7,3,-3, 2,-4,7,-7,9,1,-24,5,-6,0,
          -3,8,-1,5,-8,3,-1,-6,0,-9, 2,-4,1,6,-39,2,-5,8,0,5,
          -2,-7,7,-3,3,0,-9,6,-1,2, -5,9,4,-1,6,-4,1,-22,3,-6,
          0,-3,9,-2,5,-8,4,-7,7,-1, -10,1,2,-6,5,-4,8,3,0,21,
          -5,-2,3,-2,9,-6,4,2,-8,1, 6,-1,-3,8,-21,4,-6,0,-1,-3,
          6,9,-9,2,-5,1,-4,-7,7,0, 3,-8,2,-1,8,-2,5,-27,9,4,
          -7,3,-2,-6,0,6,-1,8,-5,-3, 1,-8,2,-10,4,-4,9,-3,7,6,
          -2,4,-6,2,-7,1,0,-9,5,-2, -4,8,5,0,3,-3,-9,1,2,-6,
          7]
LENS23 = [7,2,3,8,-5,13,15,14,10,-3, 5,-6,-8,-10,6,5,-4,-8,0,-6,
          9,-2,4,-1,4,-9,2,-6,7,-3, -4,8,2,-9,0,-3,5,-1,-22,1,
          3,-7,5,-4,-2,10,1,-7,3,-5, 8,0,6,-29,9,2,-8,4,-2,-3,
          1,-1,-6,6,-5,4,8,-10,2,-3, -9,3,-2,-4,7,21,-1,3,-5,5,
          -8,6,-1,1,-3,2,7,-8,-24,0, 4,-2,4,-3,-7,9,-6,5,1,-10,
          3,-6,-1,9,-10,2,3,-4,6,-4, -1,7,22,-9,-2,0,-7,6,-5,4,
          1,-5,1,-8,4,-23,3,-1,9,-2, 7,-4,-3,6,2,-10,2,-8,5,-7,
          -3,0,-11,4,-6,5,6,-1,-1,8, -4,2,2,-9,9,-5,-7,1,-2,3,
          9,-10,7,3,-2,1,-6,5,0,4, -8,6,-3,2,-4,1,-27,9,6,-1,
          -15]
LENS24 = [3,-2,5,10,13,15,10,5,3,-15, -6,-9,-5,-6,-6,-5,-6,-5,2,-4,
          8,-3,7,-1,4,-9,0,2,-7,4, -1,-6,2,6,-9,0,-3,3,-4,1,
          -22,7,5,-2,0,3,-6,1,-8,9, 5,-2,6,-39,1,2,-7,4,-3,-5,
          0,4,-9,8,-4,6,-1,-21,3,-5, 8,-1,3,7,-8,-6,2,-2,7,-3,
          5,-4,-10,0,1,-9,9,-2,4,-6, -2,3,-7,8,5,-24,1,-3,6,-8,
          2,-4,2,-1,9,-1,21,-6,-5,7, 0,6,3,-8,3,-9,5,-2,1,-4,
          4,-3,6,-26,0,2,-9,7,-5,-1, -2,8,9,-7,3,-4,1,-3,-8,3,
          5,-9,1,5,-1,7,-4,-2,2,-6, 8,-2,-3,9,4,-10,6,-8,2,-30,
          2,-5,7,-6,4,-1,-1,0,-3,0, -9,4,-5,1,1,-7,3,-2,6,-2,
          -36]
LENS25 = [8,2,0,-8,-5,-10,-8,5,10,18, 7,-1,5,2,-7,2,-6,-3,-3,0,
          -4,6,-1,3,-9,9,1,-8,4,-2, -5,1,6,-10,0,-5,2,-12,3,-7,
          4,-3,7,-1,-9,0,-6,5,21,-1, -3,2,-6,-20,8,5,-2,-2,9,1,
          -7,4,-4,6,0,8,-4,3,-1,1, -8,-25,3,2,-6,6,-2,7,-3,-5,
          0,4,-1,7,-7,1,-9,2,-2,8, -4,6,9,-9,3,-6,1,-5,4,-1,
          -2,9,-3,3,-10,7,2,0,6,-8, 4,-7,1,-1,-6,5,-3,8,-29,2,
          -5,3,4,-1,6,-2,-8,0,1,-9, 7,-6,-4,2,2,-8,5,-4,-11,9,
          -1,3,0,5,-5,1,-3,8,-2,4, -7,-10,0,6,-4,4,-9,1,-6,2,
          3,-1,8,-4,5,-2,5,-3,9,-6, 4,-3,-10,7,-7,1,-1,-8,4,-4,
          -28]
LENS26 = [5,-5,20,10,5,3,0,5,5,7, -8,-3,2,-4,-2,4,-9,3,-8,0,
          6,-21,3,-1,9,-1,2,7,-6,-4, 1,-3,8,-7,5,-9,-28,2,4,-7,
          6,-2,-2,9,1,-9,3,-5,7,0, 10,-8,3,-5,1,-1,-6,4,-2,8,
          -4,2,-1,2,7,-3,5,-8,0,-1, -6,9,4,-10,3,-6,1,5,0,6,
          -2,-4,1,7,-9,8,-4,-7,2,3, -7,4,-19,5,0,-2,1,-6,6,-1,
          8,-3,3,-5,2,-8,9,0,4,-24, 1,-1,-3,9,6,-6,2,-4,4,-7,
          0,7,-5,3,-8,0,-2,7,-2,3, 1,-9,5,-1,6,-3,1,-4,8,2,
          -6,2,4,-7,-1,6,-1,5,-9,9, -3,3,-8,2,-3,9,-6,0,1,-1,
          6,-7,0,-4,4,-2,3,-23,2,5, -9,8,-4,5,-2,-1,9,1,-6,0,
          -5]
LENS27 = [-5,-10,8,13,12,-15,12,-2,-23,0, 0,7,5,-3,-2,-1,-9,0,4,-6,
          8,-5,4,-10,6,1,-1,8,-7,3, -3,1,-2,9,-24,2,5,-8,6,-4,
          2,-7,0,-6,9,-2,3,-1,4,-9, -9,7,3,-5,-2,1,-5,8,1,-10,
          6,-3,-21,2,5,-9,5,-3,2,7, -6,20,-1,-1,9,-6,4,3,-8,-29,
          1,2,-7,4,-2,6,-3,-8,0,1, -10,7,-4,8,-4,3,1,-9,-2,2,
          -6,5,-6,3,-1,-10,1,4,-1,5, -3,9,-3,1,8,-8,-5,0,6,-5,
          2,-9,3,-2,6,0,7,-25,3,-4, 1,-2,4,-6,9,-1,-7,1,3,-9,
          7,-7,-2,0,-4,5,-1,2,-3,8, -1,2,5,-3,6,-4,8,0,-1,1,
          -8,4,-6,2,1,-6,3,-10,7,-2, 9,-2,5,-1,4,-9,-4,0,2,-27,
          6]
LENS28 = [7,5,0,-2,3,-3,5,-5,8,14, -3,-8,-10,6,-5,1,2,-3,9,-7,
          5,-1,-10,0,4,-9,7,-4,-2,8, 2,3,-5,6,-2,9,-1,-6,2,-24,
          9,-3,4,-10,1,-7,1,5,-8,6, -5,-3,0,2,-9,3,-1,7,-1,20,
          -6,3,-6,2,-2,9,-2,4,4,-8, 1,-2,1,7,-5,-4,8,-29,3,6,
          -3,5,-9,2,-6,1,-4,8,-2,1, 7,-10,2,-6,0,3,-1,6,-2,-3,
          4,-7,-1,9,-8,6,2,0,2,-5, 9,-4,-9,1,1,-4,3,-3,-21,8,
          -6,6,-1,4,7,-7,0,-1,4,-8, 2,-3,2,-24,9,5,-6,7,0,3,
          -5,1,-2,8,-2,9,-5,-8,3,1, -8,6,4,-4,0,9,3,-6,2,-7,
          0,-1,-4,6,-5,2,-10,3,-3,9, -1,7,4,-5,1,-2,8,-9,1,-6,
          2]
LENS29 = [7,7,7,8,10,5,-3,-8,5,-10, -1,-10,0,-9,-2,-11,20,4,4,8,
          -3,1,-4,6,-8,2,-8,3,-1,6, 0,7,-3,-4,9,4,-21,2,-6,5,
          1,-2,8,-2,9,-6,5,-7,1,-10, 3,-4,6,-26,0,-1,5,-9,3,-3,
          6,-6,-1,9,2,-7,2,-3,7,-29, 0,4,-4,8,-8,1,0,3,-5,1,
          -7,6,-1,4,-2,8,3,-10,5,-7, 2,-9,7,-4,-5,1,-2,9,-22,3,
          -6,2,0,5,6,-3,1,-6,9,-1, 4,-8,0,-2,-8,4,-4,7,3,-4,
          5,-9,-21,2,-3,6,-1,7,-1,8, -3,2,1,-6,9,-5,4,-9,4,0,
          -7,8,-2,3,-2,3,-24,9,6,-8, 1,5,0,-3,2,-4,7,-1,-7,1,
          5,-1,6,-6,-3,0,2,-8,4,-10, 2,-3,8,-5,4,-1,3,0,-6,7,
          -4]
LENS30 = [6,0,7,5,5,-5,-10,8,-5,15, 5,-3,-2,2,-5,-8,-6,3,-4,6,
          0,-1,4,-7,2,-2,9,-9,1,-21, 3,-5,8,-3,2,6,-8,-4,1,-3,
          7,-5,4,-1,-10,9,3,-9,7,-6, -2,1,-39,6,2,-8,5,-1,4,3,
          -4,-6,0,1,-7,8,-3,5,-2,2, -20,8,-3,4,-9,-1,1,-7,6,3,
          -1,6,-5,-4,2,2,-22,0,-1,5, -8,4,9,-2,6,-6,3,-8,1,9,
          -3,-5,1,-7,20,0,3,-1,4,-25, 8,-5,2,-3,2,-9,6,-4,-7,0,
          5,-1,9,-2,5,-6,-1,1,-8,4, -4,3,-6,8,0,1,-10,2,-4,7,
          0,-3,3,-30,4,-1,-7,6,-1,5, -2,2,-7,8,-5,9,-9,2,-4,1,
          3,0,5,-21,7,-3,0,-2,1,4, -7,5,-6,2,-2,-1,7,-6,9,-3,
          2]
LENS31 = [-10,12,10,13,-15,-18,5,8,-10,4, 6,-4,1,-2,-11,9,3,-8,5,-5,
          -2,3,-1,7,-7,0,2,-9,4,-6, 4,-1,8,-9,1,-24,2,-3,8,6,
          -4,5,-4,1,-29,9,3,-7,2,-6, 0,-1,-2,7,-5,3,-10,1,6,-9,
          5,-3,2,-6,2,-8,7,-2,9,0, -4,9,-5,4,4,-8,-1,-22,3,5,
          -7,6,-1,1,-3,0,-7,2,-5,20, 3,-9,1,-4,6,-1,-23,5,2,-6,
          2,-8,4,-8,7,-4,0,-2,1,-5, 3,-3,0,9,-2,6,-9,6,-5,1,
          -8,2,4,-6,0,-1,-2,8,-7,4, -21,1,-4,7,-3,5,3,-9,2,-2,
          -6,7,-4,5,1,0,3,-10,8,-3, 9,-1,-6,4,-8,4,1,-25,0,-4,
          6,-1,2,-5,2,-5,7,-1,9,-3, 4,-8,3,-2,-7,0,1,-1,5,-6,
          -3]
LENS32 = [5,8,0,3,5,-2,8,0,-13,5, 8,2,2,-6,4,-8,3,-6,0,-1,
          -1,7,5,-4,2,-10,2,-9,6,6, -3,1,9,-7,9,-5,4,-2,-22,1,
          8,-5,3,-1,2,7,0,-1,7,-8, 4,-6,3,-4,0,5,-27,2,-3,9,
          -8,9,-2,4,-2,-6,3,6,-9,5, -4,1,-9,1,-6,8,7,-3,2,0,
          2,-2,-5,9,21,-1,4,-7,4,-3, -7,0,-1,6,-2,6,-5,-20,1,3,
          -8,3,-4,2,8,-9,-3,2,-6,7, 1,-1,5,-6,9,-22,0,4,-1,4,
          -3,5,-4,7,0,2,-8,1,-7,8, 6,-4,3,-2,2,-9,-1,0,-5,6,
          -5,1,-11,8,4,-2,4,-3,-8,0, 3,-6,1,9,-6,-1,5,-2,-29,2,
          -3,7,0,8,-4,5,-1,1,-7,4, 0,-8,3,-5,-2,6,-3,6,-5,9,
          -6]
LENS33 = [-5,-4,-8,-25,12,10,-5,8,14,13, -2,-9,-4,-2,1,-1,5,8,-6,3,
          2,-7,-9,0,-1,5,-2,4,-4,7, 0,2,9,-5,3,-6,-21,1,1,-8,
          6,-3,6,-3,-39,2,-1,8,0,4, -5,0,-7,3,-9,9,-4,-4,1,2,
          -2,5,-7,6,-2,-20,3,-1,9,-6, 4,0,7,-3,-3,8,1,-24,2,-5,
          0,-5,3,6,-8,-2,3,-9,5,1, -6,1,-2,8,-1,7,-3,4,-22,6,
          2,-6,1,-4,9,0,20,-7,-3,2, -1,8,-8,3,3,-9,5,-5,-1,7,
          -4,0,2,-6,7,-3,4,-1,-23,1, 6,-3,4,-7,9,-8,2,-2,-5,8,
          -9,5,-26,0,3,-1,3,-4,7,-3, 5,-6,1,-10,1,-2,8,-4,6,-7,
          -3,2,0,5,-7,4,1,-7,0,-31, 8,-4,3,-2,2,-9,6,-1,-4,9,
          3]
LENS34 = [5,1,-12,15,-2,5,-7,8,-12,14, 12,8,-9,11,1,-8,2,-40,-8,14,
          -2,5,3,13,-6,11,14,-6,11,4, 5,16,1,9,-16,7,10,10,-11,-4,
          -22,15,18,9,11,-3,7,14,-4,1, 4,2,11,3,10,-2,-15,9,-4,11,
          -7,-15,-8,6,-5,-3,-10,-19,1,6, 9,-34,8,16,-11,1,-24,8,3,-8,
          -6,3,2,18,5,-12,0,-28,8,5, -10,-26,-19,-3,7,-5,4,8,-12,-11,
          -5,-2,-6,9,-4,10,-3,-12,-6,-4, 2,-9,-13,1,6,3,-3,8,11,16,
          -12,2,1,6,-11,0,5,-9,3,-4, -4,7,-1,15,-16,10,12,-14,5,1,
          4,10,-3,-7,4,-7,-7,-13,8,7, -3,2,6,-1,-6,4,5,-11,-6,0,
          6,0,-21,-4,5,1,9,8,2,5, -9,10,8,1,12,4,10,-7,11,-2,
          3]
LENS35 = [-2,-3,0,3,-5,-12,-15,0,25,15, -5,-5,9,-2,6,-2,4,-8,3,-10,
          1,-4,-39,3,-6,8,-3,2,8,-10, 5,-1,-6,2,-7,6,-3,-1,9,1,
          -4,10,-6,3,-9,3,-9,7,-2,1, 4,-2,5,-5,-22,9,1,-8,4,-3,
          0,-5,6,-1,7,-1,2,-7,2,-8, -4,3,-9,5,-1,9,-4,3,-25,0,
          7,-6,1,-3,2,6,-8,-3,2,0, 1,-7,4,-2,8,-21,1,4,-6,5,
          -9,3,-2,0,-4,8,-5,6,1,-1, 3,-7,2,-9,2,-2,9,-4,5,0,
          -6,0,1,-3,5,-2,4,-1,-20,4, -8,6,7,-1,1,-5,2,-6,8,3,
          -3,0,-2,-8,4,-4,-23,1,6,-7, 6,-1,-2,9,-6,3,-7,2,0,-3,
          -9,5,-5,1,-4,1,7,-8,2,-4, 2,-1,4,-7,9,-2,-3,6,-6,1,
          -8]
LENS101 = [0,8,5,2,0,-3,-8,10,10,-3, 6,-4,2,-3,-22,9,-1,4,-10,4,
           -7,7,-2,3,8,-8,1,-5,1,-3, 5,-2,-9,2,-6,9,-4,6,-1,-10,
           0,3,-1,6,-4,-28,3,2,-8,1, -5,7,-2,4,-9,1,8,-2,5,-6,
           2,-7,4,-1,0,-23,8,5,-7,3, -1,3,-4,6,-6,1,2,-9,2,-3,
           8,-9,6,-4,1,-6,21,0,4,-2, -2,4,-10,9,5,-8,3,-5,3,1,
           -6,2,-7,2,-4,9,-1,7,-1,-4, 0,-7,5,-21,3,-3,8,-2,5,-5,
           1,-6,1,-2,9,0,3,-8,2,-25, 7,-4,4,-1,2,-8,0,6,-9,5,
           -3,5,-1,1,-5,8,-6,10,0,2, -3,2,-9,7,1,-3,4,-5,9,-6,
           0,-2,-2,7,-8,4,-22,1,-1,8, -4,6,3,-9,3,-1,5,-4,-7,2,
           -10]
LENS102 = [-5,15,10,-30,5,0,-10,5,10,8, -2,0,-4,6,-2,1,-6,3,4,-7,
           2,-9,2,-5,9,-3,7,-1,-8,3, -5,4,0,-21,5,-3,6,-1,9,-6,
           1,-4,2,-2,-8,6,-8,7,3,0, 4,-5,-25,1,-1,8,-3,7,-4,2,
           -6,2,-7,4,20,-1,1,-6,3,-9, 9,-2,5,-3,5,-9,1,2,-22,4,
           -4,7,-7,2,-1,8,0,3,-4,9, 5,-2,6,-6,-3,3,-10,0,-1,6,
           -8,1,2,-9,7,-4,-3,2,4,-7, 5,-5,3,-1,0,-21,8,-5,9,-1,
           2,2,-8,-6,9,-2,4,-2,5,-4, -20,3,1,-7,6,0,6,-28,1,3,
           -6,7,-3,8,-1,-5,2,-3,0,-9, 1,-8,4,-5,9,2,-2,10,-7,-2,
           1,-4,4,-9,5,-6,-1,3,-7,7, -3,0,-1,6,-8,3,-4,2,-1,6,
           -12]
LENS103 = [10,8,5,7,5,3,8,4,5,13, 10,5,-2,-2,3,-1,-8,4,1,-6,
           2,2,-10,-3,7,-6,9,1,-5,4, -2,4,8,-8,-1,0,-20,6,3,-9,
           3,-4,-4,9,2,-7,6,-1,5,-2, -8,1,-5,7,-39,3,1,-8,5,-6,
           3,-3,0,-3,8,-9,4,-6,2,1, -7,4,-1,5,-2,-21,1,8,-6,6,
           0,2,3,-5,6,-1,0,-24,2,-4, 9,-8,7,-3,-2,7,1,-7,4,-6,
           4,0,1,-9,8,-2,5,-7,-1,2, -4,6,-4,0,3,-6,3,-9,2,-22,
           1,-1,7,-2,6,-5,-3,9,-8,4, -6,3,0,2,-24,8,1,-7,5,-2,
           -1,0,5,-6,2,-3,7,-3,9,-8, 2,-10,1,4,-6,4,-2,1,-3,9,
           -5,7,-1,3,0,3,-27,0,-5,6, 2,-8,2,-4,9,-1,1,-35,8,-3,
           5]
LENS104 = [-2,0,2,2,-3,10,5,13,3,-5, 10,13,-10,-29,0,-3,-2,-5,4,5,
           -8,1,-6,4,-2,7,-1,7,-10,9, 3,-3,5,-4,-9,2,1,-7,0,-6,
           8,-2,-4,8,6,-21,3,-3,9,-1, 2,6,-8,-1,1,-9,5,-6,4,-4,
           -3,0,3,-24,2,-5,7,0,7,-2, 5,-5,3,-7,1,9,-2,4,-3,-8,
           1,-6,9,-1,-6,4,-9,2,-22,2, -4,8,-3,6,-2,0,6,3,-4,1,
           -20,1,5,-8,5,-3,-2,0,-1,8, -9,3,-5,2,-5,7,-26,3,2,-7,
           4,-1,6,-2,-7,1,-4,9,-3,6, -1,-9,2,-6,4,-9,20,-2,3,-8,
           0,-4,2,5,-6,-1,3,-3,7,-21, 2,-2,-8,7,-3,5,-1,-6,1,4,
           -10,4,-5,2,-8,9,-3,2,-24,7, 3,-9,5,-2,6,-2,1,-5,8,-6,
           10]
LENS105 = [-5,-5,-3,-6,-10,-33,10,12,3,15, 13,5,8,2,-9,-6,1,-4,4,-2,
           6,-10,6,-9,2,1,-8,4,-4,9, -2,3,8,-7,-5,0,-1,21,-1,5,
           -3,-10,3,7,-9,5,-5,2,-6,1, -1,8,-3,7,-6,-24,2,3,-8,4,
           -4,0,-7,5,26,-2,1,-7,3,-3, -9,9,-2,5,0,6,-4,1,1,-8,
           2,-22,7,-4,7,-1,3,-6,4,-5, 5,-1,9,-3,8,-9,-2,3,-8,0,
           -6,5,-4,2,-21,1,-3,9,-2,6, -8,1,-5,2,5,0,8,-6,-27,3,
           2,-1,4,-3,9,-6,6,-1,0,-2, -4,1,-9,7,1,-9,5,-4,3,0,
           -3,7,-5,-2,2,-10,8,4,-7,4, -1,-6,1,-8,9,-4,3,-2,9,-25,
           3,-6,2,-4,0,-2,6,-9,5,-1, 7,-8,2,-3,-7,4,-3,4,8,-5,
           2]

# ---------------- panel descriptions (row-major, 9 rows x 7 columns) ----------------
OBS_TITLES = ["ERA5", "ERA20c_ERA5_comb", "ERA5_2"]
OBS_TRENDS = ["0 74yr\u207b\u00b9", "0 104yr\u207b\u00b9", "-0 45yr\u207b\u00b9"]

MODEL_TITLES = (["CESM1-HR %d" % i for i in range(1, 11)]
                + ["CESM1-LR %d" % i for i in range(1, 11)]
                + ["CESM1-LENS %d" % i for i in range(1, 36)]
                + ["CESM1-LENS %d" % i for i in range(101, 106)])
MODEL_SERIES = [HR1, HR2, HR3, HR4, HR5, HR6, HR7, HR8, HR9, HR10,
                LR1, LR2, LR3, LR4, LR5, LR6, LR7, LR8, LR9, LR10,
                LENS1, LENS2, LENS3, LENS4, LENS5, LENS6, LENS7, LENS8, LENS9, LENS10,
                LENS11, LENS12, LENS13, LENS14, LENS15, LENS16, LENS17, LENS18, LENS19, LENS20,
                LENS21, LENS22, LENS23, LENS24, LENS25, LENS26, LENS27, LENS28, LENS29, LENS30,
                LENS31, LENS32, LENS33, LENS34, LENS35, LENS101, LENS102, LENS103, LENS104, LENS105]
MODEL_TRENDS = ["-0.16", "-0.03", "-0.2", "0.06", "-0.16", "0.2", "-0.1", "0.07", "0.26", "0.08",
                "0.26", "0.12", "-0.2", "-0.07", "-0.15", "0.16", "-0.02", "-0.36", "0.02", "0.12",
                "0.34", "0.4", "-0.54", "0.18", "-0.02", "-0.05", "-0.19", "0.25", "-0.12", "-0.02",
                "0.26", "-0.12", "0.01", "-0.1", "-0.01", "0.32", "0.08", "0.47", "-0.22", "0.34",
                "-0.2", "-0.07", "-0.02", "0.18", "-1.05", "-0.08", "-0.11", "0.23", "0.14", "-0.14",
                "0.09", "0.16", "-0.22", "-0.07", "0.13", "-0.1", "0.09", "-0.44", "0.15", "0.19"]

# y tick spacing of each panel (row-major)
TICK_STEP = [1, 2, 1, 2, 1, 2, 2,
             1, 2, 2, 1, 1, 2, 1,
             1, 2, 1, 2, 1, 2, 1,
             1, 2, 1, 2, 1, 1, 2,
             1, 1, 1, 2, 2, 2, 2,
             2, 1, 2, 1, 2, 2, 1,
             2, 2, 2, 1, 2, 1, 1,
             1, 1, 1, 2, 1, 1, 2,
             2, 2, 1, 1, 2, 1, 2]

TITLE_COLORS = {"ERA": "#000000", "CESM1-HR": "#15798C", "CESM1-LR": "#6C9366", "CESM1-LENS": "#CBC176"}

# ---------------- styling / geometry ----------------
FONT = "Liberation Sans"
BLUE = "#4169E1"
GRAY = "#9b9b9b"
FW, FH = 496, 178         # plot frame size
BT = 40                   # space from cell top to frame top
TOPB = 8                  # part of it that belongs to the panel figure (top ticks)
HS = BT - TOPB            # height of the title strip above each row
TITLE_Y = 11              # baseline of panel titles inside the strip


def frame_left(c):
    return 60.1 + 585.7 * c


starts = [8] + [round(frame_left(c)) - 60 for c in range(1, 7)]
ends = starts[1:] + [4088]
COL_W = [e - s for s, e in zip(starts, ends)]
COL_BL = [round(frame_left(c)) - s for c, s in enumerate(starts)]
TOTAL_W = sum(COL_W)

ftop = [round(235.0 + 252.7 * r) for r in range(9)]
ctop = [t - BT for t in ftop]
HEADER_H = ctop[0] - 8
ROW_H = [ctop[r + 1] - ctop[r] for r in range(8)] + [BT + FH + 39]


def yticker(step):
    if step == 1:
        major = [-4, -3, -2, -1, 0, 1, 2, 3, 4]
        minor = [round(v, 1) for v in np.arange(-5, 5.01, 0.2)]
    else:
        major = [-6, -4, -2, 0, 2, 4, 6]
        minor = [round(v, 1) for v in np.arange(-6, 6.01, 0.5)]
    return major, minor


def make_axis(ticks, minor, fmt, labels, tick_len=11, standoff=9):
    ax = LinearAxis(ticker=FixedTicker(ticks=ticks, minor_ticks=minor), formatter=fmt,
                    axis_line_color="black", axis_line_width=1.5,
                    major_tick_in=0, major_tick_out=tick_len, minor_tick_in=0, minor_tick_out=5,
                    major_tick_line_color="black", minor_tick_line_color="black",
                    major_tick_line_width=1.3, minor_tick_line_width=1.0,
                    major_label_text_font=FONT, major_label_text_color="black")
    if labels:
        ax.major_label_text_font_size = "14px"
        ax.major_label_standoff = standoff
    else:
        ax.major_label_text_font_size = "0px"
        ax.major_label_standoff = 0
        ax.major_label_overrides = {t: "" for t in ticks}
    return ax


def panel_info(idx):
    if idx < 3:
        title = OBS_TITLES[idx]
        trend = OBS_TRENDS[idx]
        color = TITLE_COLORS["ERA"]
    else:
        m = idx - 3
        title = MODEL_TITLES[m]
        trend = MODEL_TRENDS[m] + " 181yr\u207b\u00b9"
        color = TITLE_COLORS[title.rsplit(" ", 1)[0]]
    return title, trend, color


def make_panel(idx, w, h, bl):
    step = TICK_STEP[idx]
    if idx == 0:
        xb, yb, xg, yg = ERA5_YEARS, ERA5, [], []
        xlim = (1949.5, 2023.5)
        xmaj = [1960, 1980, 2000, 2020]
        xmin = list(range(1950, 2024, 5))
    elif idx == 1:
        xb, yb, xg, yg = ERA20C_YEARS, ERA20C, ERA5_YEARS, ERA5
        xlim = (1919.5, 2023.5)
        xmaj = [1920, 1940, 1960, 1980, 2000, 2020]
        xmin = list(range(1920, 2024, 5))
    elif idx == 2:
        xb, yb = ERA5_2_YEARS, ERA5_2
        xg, yg = ERA5_YEARS[29:], ERA5[29:]
        xlim = (1978.5, 2023.5)
        xmaj = [1980, 1990, 2000, 2010, 2020]
        xmin = list(range(1978, 2024, 2))
    else:
        series = MODEL_SERIES[idx - 3]
        yb = [v / 10.0 for v in series]
        xb = MODEL_YEARS[:len(yb)]
        xg, yg = ERA5_YEARS, ERA5
        xlim = (1919.5, 2100.5)
        xmaj = [1920, 1960, 2000, 2040, 2080]
        xmin = list(range(1920, 2101, 10))

    if idx == 0:
        ylo, yhi = -2.0, 2.0
    else:
        allv = list(yb) + list(yg)
        lo, hi = min(allv), max(allv)
        pad = 0.078 * (hi - lo)
        ylo, yhi = lo - pad, hi + pad

    ph = h - HS
    bb = ph - TOPB - FH
    br = w - bl - FW
    p = figure(width=w, height=ph, x_range=Range1d(*xlim), y_range=Range1d(ylo, yhi),
               output_backend="svg", toolbar_location=None, title=None,
               x_axis_type=None, y_axis_type=None,
               min_border_left=bl, min_border_right=br,
               min_border_top=TOPB, min_border_bottom=bb)
    p.outline_line_color = "black"
    p.outline_line_width = 1.5
    p.background_fill_color = "white"
    p.border_fill_color = "white"

    ymaj, ymin = yticker(step)
    yfmt = PrintfTickFormatter(format="%.1f")
    xfmt = PrintfTickFormatter(format="%d")
    p.add_layout(make_axis(ymaj, ymin, yfmt, True), "left")
    p.add_layout(make_axis(ymaj, ymin, yfmt, False), "right")
    p.add_layout(make_axis(xmaj, xmin, xfmt, True, standoff=6), "below")
    p.add_layout(make_axis(xmaj, xmin, xfmt, False, tick_len=TOPB), "above")

    p.add_layout(Span(location=0, dimension="width", line_color="#c8c8c8",
                      line_width=2, level="underlay"))
    if xg:
        p.line(x=xg, y=yg, line_color=GRAY, line_width=1.8)
    p.line(x=xb, y=yb, line_color=BLUE, line_width=1.8)
    return p


def make_strip(r):
    s = figure(width=TOTAL_W, height=HS, x_range=Range1d(0, TOTAL_W), y_range=Range1d(0, HS),
               output_backend="svg", toolbar_location=None, title=None,
               x_axis_type=None, y_axis_type=None, min_border=0,
               min_border_left=0, min_border_right=0, min_border_top=0, min_border_bottom=0)
    s.outline_line_color = None
    s.background_fill_color = "white"
    s.border_fill_color = "white"
    for c in range(7):
        idx = r * 7 + c
        title, trend, color = panel_info(idx)
        x0 = round(frame_left(c)) - 8
        s.add_layout(Label(x=x0, y=TITLE_Y, text=title, text_font=FONT, text_font_size="17px",
                           text_color=color, text_align="left", text_baseline="alphabetic"))
        s.add_layout(Label(x=x0 + FW, y=TITLE_Y, text=trend, text_font=FONT, text_font_size="13px",
                           text_color="black", text_align="right", text_baseline="alphabetic"))
    return s


# ---------------- header ----------------
hdr = figure(width=TOTAL_W, height=HEADER_H, x_range=Range1d(0, TOTAL_W),
             y_range=Range1d(0, HEADER_H), output_backend="svg", toolbar_location=None,
             title=None, x_axis_type=None, y_axis_type=None, min_border=0,
             min_border_left=0, min_border_right=0, min_border_top=0, min_border_bottom=0)
hdr.outline_line_color = None
hdr.add_layout(Label(x=2026, y=HEADER_H - 104, text="SAM Timeseries (JFM)",
                     text_font=FONT, text_font_size="114px", text_color="black",
                     text_align="center", text_baseline="alphabetic"))
hdr.add_layout(Label(x=4043, y=HEADER_H - 113, text="\u00a9 CVDP",
                     text_font=FONT, text_font_size="37px", text_font_style="bold",
                     text_color="#dcdcdc", text_align="right", text_baseline="alphabetic"))

blocks = [hdr]
for r in range(9):
    blocks.append(make_strip(r))
    figs = [make_panel(r * 7 + c, COL_W[c], ROW_H[r], COL_BL[c]) for c in range(7)]
    blocks.append(row(figs, spacing=0))

layout = column(blocks, spacing=0)

open("out.html", "w").write(file_html(layout, INLINE, title="SAM Timeseries (JFM)"))
